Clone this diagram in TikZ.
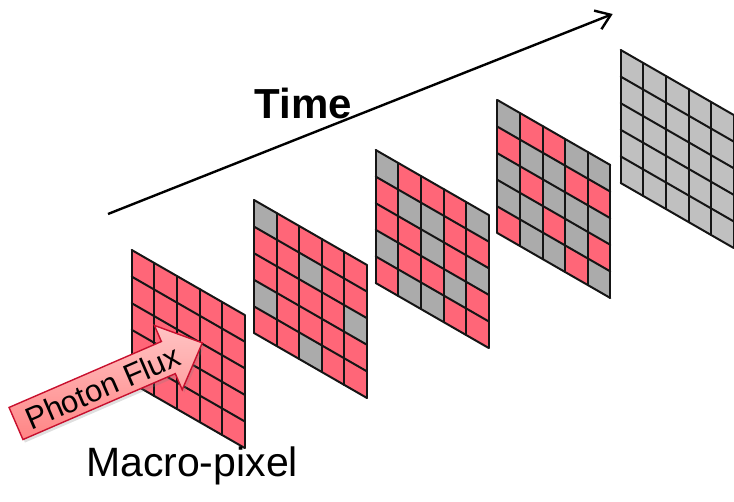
\documentclass[tikz,border=0pt]{standalone}
\usepackage{fontspec}
\setmainfont{Liberation Sans}
\usetikzlibrary{arrows.meta,shadows}
\definecolor{pk}{HTML}{FF6678}
\definecolor{gr}{HTML}{ABABAB}
\definecolor{lg}{HTML}{C0C0C0}
\definecolor{gridc}{HTML}{151515}
\definecolor{arrowred}{HTML}{C8102E}
\definecolor{flxtop}{HTML}{FFC4C4}
\definecolor{flxbot}{HTML}{FF8585}
\tikzset{
  gridline/.style={draw=gridc, line width=2pt, line cap=round},
  timearrow/.style={draw=black, line width=2.4pt, -{Straight Barb[length=14pt,width=20pt,line width=2.4pt]}},
  fluxarrow/.style={draw=arrowred, line width=1.4pt, top color=flxtop, bottom color=flxbot, line join=miter,
     drop shadow={opacity=0.25, shadow xshift=2pt, shadow yshift=-3pt}},
  bigtext/.style={font=\fontsize{41}{45}\selectfont, inner sep=0pt},
}
\newcommand\cw{22.6}
\newcommand\cs{13}
\newcommand\ch{26.6}
\newcommand\mppanel[3]{%
  \foreach \rowlist [count=\r from 0] in {#3} {
    \foreach \cl [count=\c from 0] in \rowlist {
      \fill[\cl] ({#1+\c*\cw},{#2+\c*\cs+\r*\ch}) -- ++(\cw,\cs) -- ++(0,\ch) -- ++(-\cw,-\cs) -- cycle;
    }
  }
  \foreach \i in {0,...,5} {
    \draw[gridline] ({#1},{#2+\i*\ch}) -- ++({5*\cw},{5*\cs});
    \draw[gridline] ({#1+\i*\cw},{#2+\i*\cs}) -- ++(0,{5*\ch});
  }
}
\begin{document}
\begin{tikzpicture}[x=1pt,y=-1pt]
\useasboundingbox (0,0) rectangle (734,502);
% panels
\mppanel{131.7}{250}{{pk,pk,pk,pk,pk},{pk,pk,pk,pk,pk},{pk,pk,pk,pk,pk},{pk,pk,pk,pk,pk},{pk,pk,pk,pk,pk}}
\mppanel{254}{200}{{gr,pk,pk,pk,pk},{pk,pk,gr,pk,pk},{pk,pk,pk,pk,gr},{gr,pk,pk,pk,pk},{pk,pk,gr,pk,pk}}
\mppanel{375.7}{150}{{gr,pk,pk,pk,gr},{pk,gr,gr,pk,pk},{pk,pk,gr,pk,gr},{gr,pk,pk,gr,pk},{pk,gr,gr,pk,pk}}
\mppanel{497.3}{100}{{gr,pk,pk,gr,gr},{pk,gr,gr,pk,pk},{gr,pk,gr,gr,gr},{gr,gr,pk,gr,pk},{pk,gr,gr,pk,gr}}
\mppanel{620.7}{50}{{lg,lg,lg,lg,lg},{lg,lg,lg,lg,lg},{lg,lg,lg,lg,lg},{lg,lg,lg,lg,lg},{lg,lg,lg,lg,lg}}
% time arrow
\coordinate (ts) at (108,214);
\coordinate (te) at (612.7,14);
\draw[timearrow] (ts) -- (te);
\node[font=\bfseries\fontsize{42}{46}\selectfont, anchor=base, inner sep=0pt] (time) at (303.5,119) {Time};
% photon flux arrow
\begin{scope}[shift={(16,423.5)}, rotate=23.4]
  \path[fluxarrow] (0,-17.5) -- (166,-17.5) -- (166,-35) -- (203,0) -- (166,35) -- (166,17.5) -- (0,17.5) -- cycle;
  \node[font=\fontsize{31}{34}\selectfont, rotate=23.4, inner sep=0pt] (flux) at (94,1) {Photon Flux};
\end{scope}
\node[bigtext, anchor=base] (macro) at (192,477) {Macro-pixel};
\end{tikzpicture}
\end{document}
